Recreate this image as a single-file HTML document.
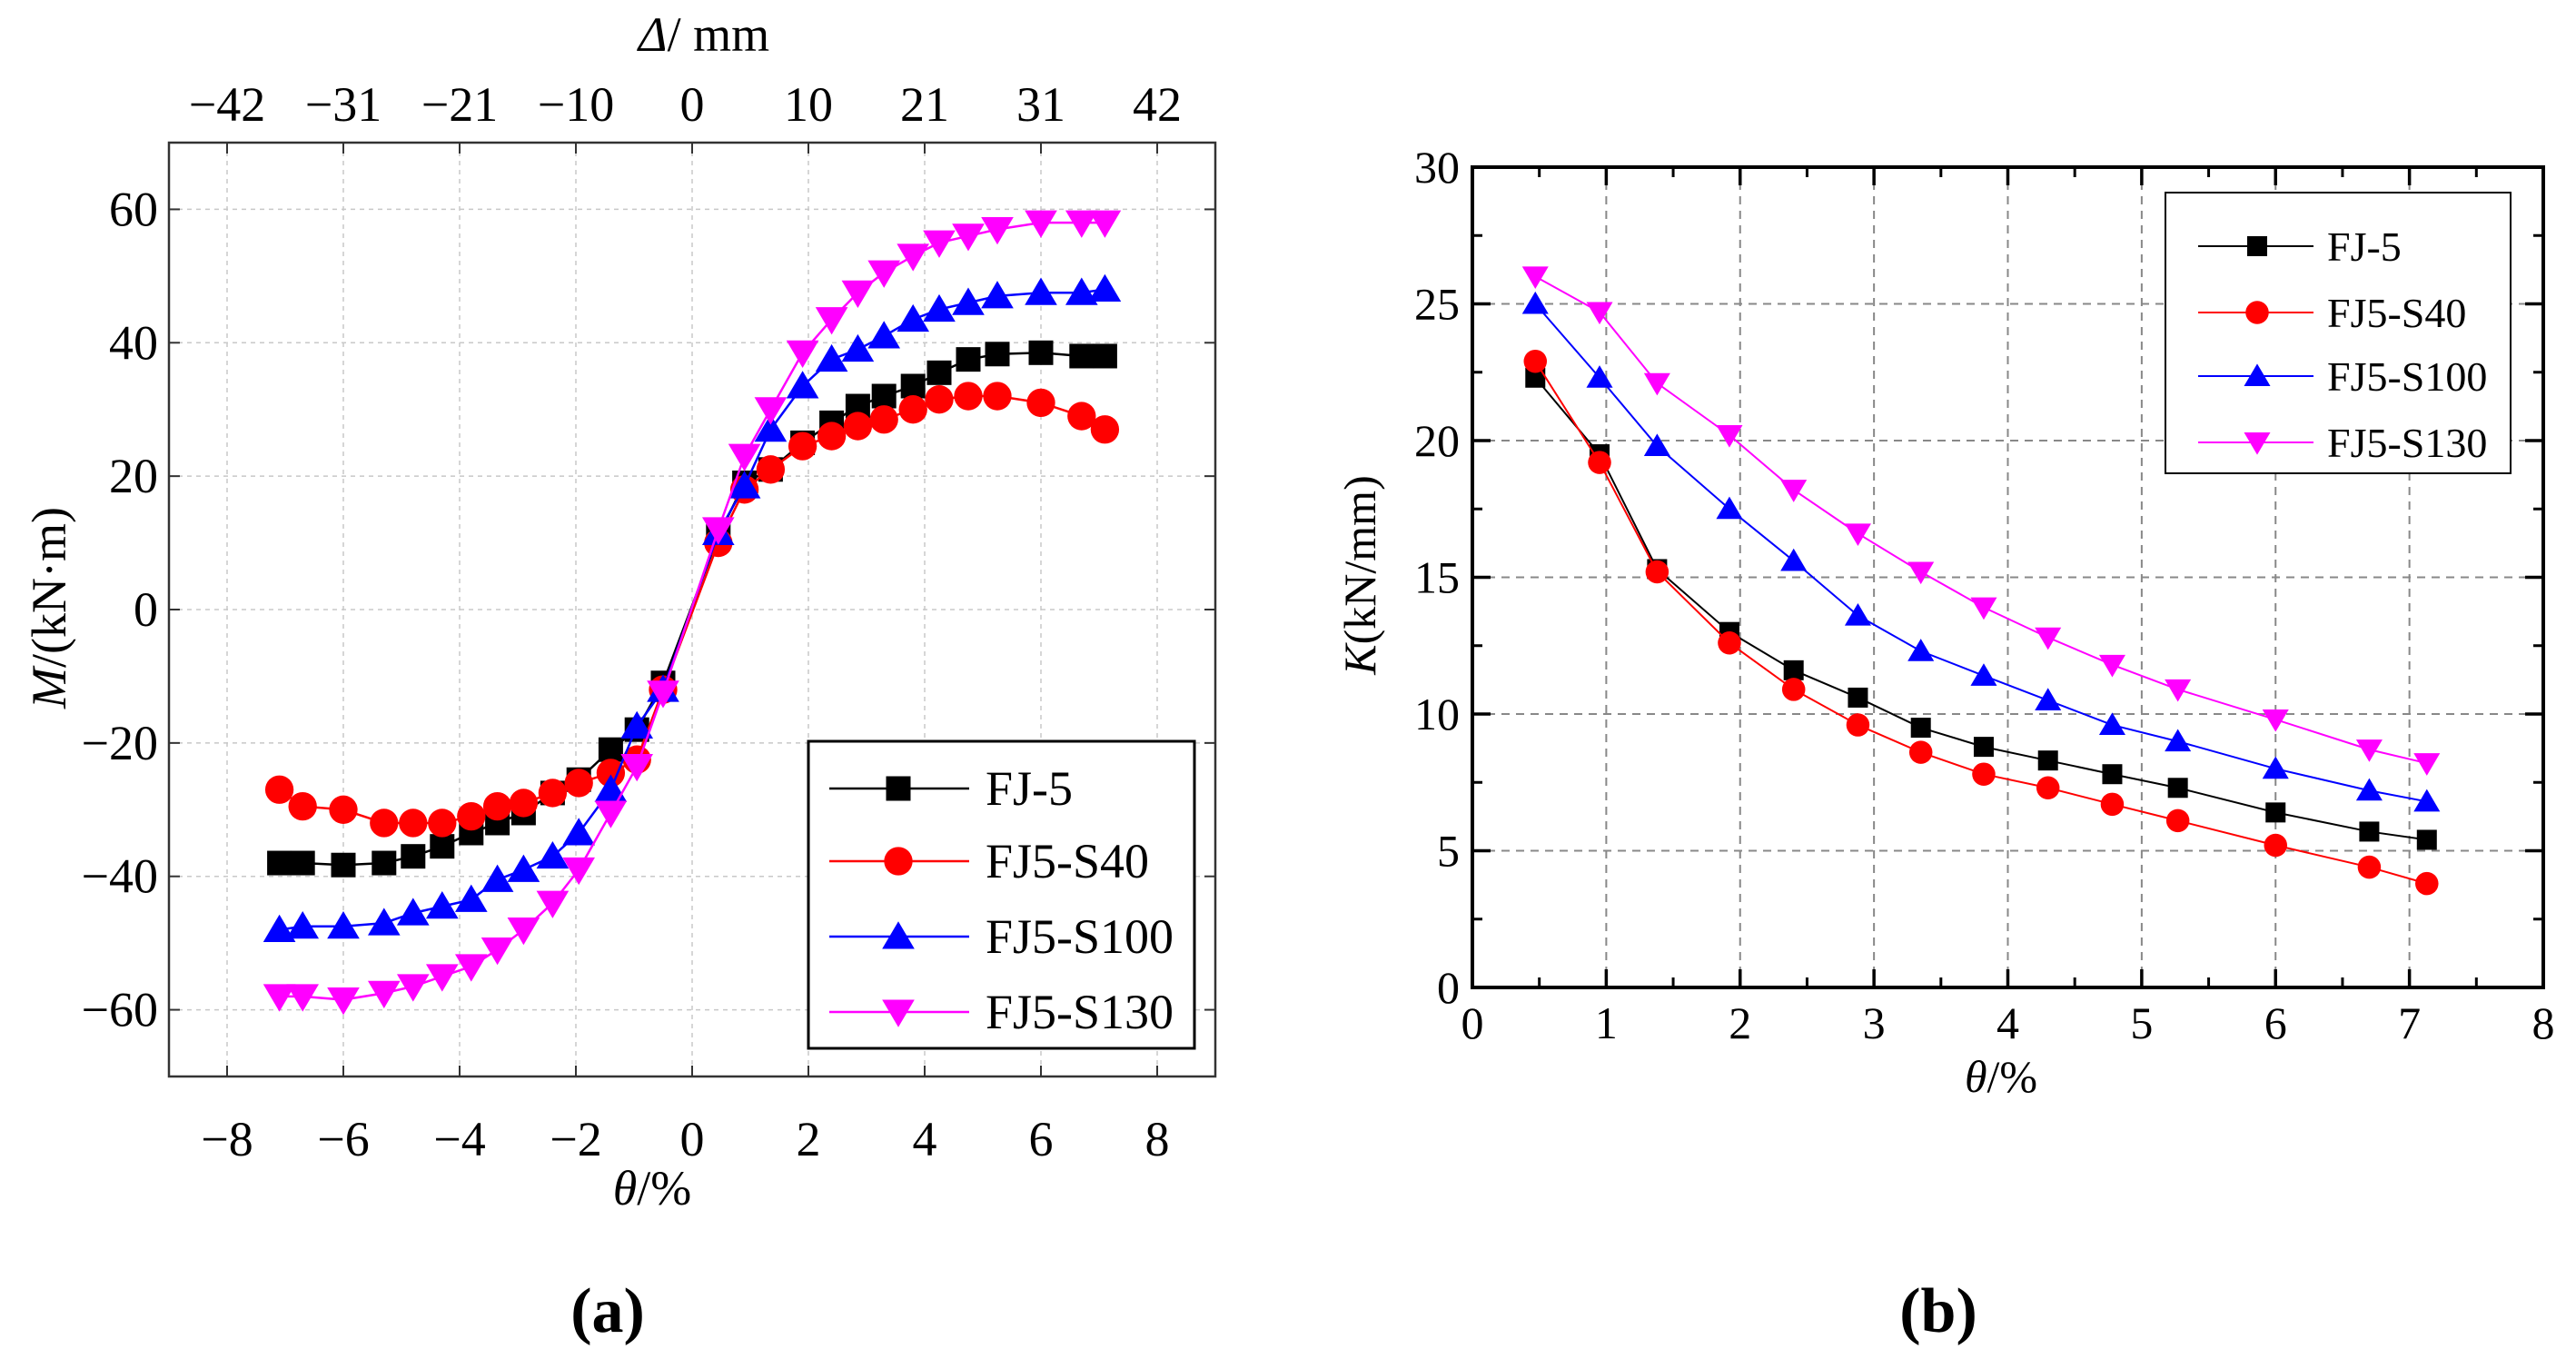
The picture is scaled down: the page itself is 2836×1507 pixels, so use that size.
<!DOCTYPE html>
<html><head><meta charset="utf-8"><style>
html,body{margin:0;padding:0;background:#fff;}
svg, svg text{font-family:"Liberation Serif","DejaVu Serif",serif;}
svg{display:block;}
</style></head><body>
<svg id="fig" width="2836" height="1507" viewBox="0 0 2836 1507" xmlns="http://www.w3.org/2000/svg" font-family="Liberation Serif, DejaVu Serif, serif"></svg>
<script>
// ---- Chart (a) data ----
const aThetaPos = [0.45,0.9,1.35,1.9,2.4,2.85,3.3,3.8,4.25,4.75,5.25,6.0,6.7,7.1];
const aThetaNeg = [-0.5,-0.95,-1.4,-1.95,-2.4,-2.9,-3.35,-3.8,-4.3,-4.8,-5.3,-6.0,-6.7,-7.1];
const aFJ5Pos  = [11,19,21,25,28,30.5,32,33.5,35.5,37.5,38.3,38.5,38,38];
const aFJ5Neg  = [-11,-18,-21,-25.5,-27.5,-30.5,-32,-33.5,-35.5,-37,-38,-38.3,-38,-38];
const aS40Pos  = [10,18,21,24.5,26,27.5,28.5,30,31.5,32,32,31,29,27];
const aS40Neg  = [-12,-22.5,-24.5,-26,-27.5,-29,-29.5,-31,-32,-32,-32,-30,-29.5,-27];
const aS100Pos = [11.5,18.5,27,33.5,37.5,39,41,43.5,45,46,47,47.5,47.5,48];
const aS100Neg = [-12,-17.5,-27,-33.5,-37,-39,-40.5,-43.5,-44.5,-45.5,-47,-47.5,-47.5,-48];
const aS130Pos = [12,23,30,38.5,43.5,47.5,50.5,53,55,56,57,58,58,58];
const aS130Neg = [-12.5,-23.5,-30.5,-39,-44,-48,-51,-53.5,-55,-56.5,-57.5,-58.5,-58,-58];
const aXTicks = [-8,-6,-4,-2,0,2,4,6,8];
const aTopTickLabels = ["\u221242","\u221231","\u221221","\u221210","0","10","21","31","42"];
const aYTicks = [-60,-40,-20,0,20,40,60];
// ---- Chart (b) data ----
const bTheta = [0.47,0.95,1.38,1.92,2.4,2.88,3.35,3.82,4.3,4.78,5.27,6.0,6.7,7.13];
const bFJ5  = [22.3,19.5,15.3,13.0,11.6,10.6,9.5,8.8,8.3,7.8,7.3,6.4,5.7,5.4];
const bS40  = [22.9,19.2,15.2,12.6,10.9,9.6,8.6,7.8,7.3,6.7,6.1,5.2,4.4,3.8];
const bS100 = [25.0,22.3,19.8,17.5,15.6,13.6,12.3,11.4,10.5,9.6,9.0,8.0,7.2,6.8];
const bS130 = [26.0,24.7,22.1,20.2,18.2,16.6,15.2,13.9,12.8,11.8,10.9,9.8,8.7,8.2];
const bXTicks = [0,1,2,3,4,5,6,7,8];
const bYTicks = [0,5,10,15,20,25,30];
const seriesNames = ["FJ-5","FJ5-S40","FJ5-S100","FJ5-S130"];
const seriesColors = ["#000000","#ff0000","#0000ff","#ff00ff"];
const seriesMarkers = ["square","circle","up","down"];

const NS="http://www.w3.org/2000/svg";
const svg=document.getElementById('fig');
const FF='Liberation Serif, DejaVu Serif, serif';
function mk(tag,attrs,parent,text){const e=document.createElementNS(NS,tag);for(const k in attrs)e.setAttribute(k,attrs[k]);if(tag==='text')e.setAttribute('font-family',FF);if(text!==undefined)e.textContent=text;(parent||svg).appendChild(e);return e;}
function fmt(v){return v<0?"\u2212"+Math.abs(v):String(v);}
function marker(g,type,x,y,s,color){
  let m;
  if(type==="square") m=mk('rect',{x:x-s/2,y:y-s/2,width:s,height:s,fill:color},g);
  else if(type==="circle") m=mk('circle',{cx:x,cy:y,r:s*0.58,fill:color},g);
  else if(type==="up") m=mk('polygon',{points:`${x},${y-s*0.62} ${x-s*0.66},${y+s*0.5} ${x+s*0.66},${y+s*0.5}`,fill:color},g);
  else m=mk('polygon',{points:`${x},${y+s*0.62} ${x-s*0.66},${y-s*0.5} ${x+s*0.66},${y-s*0.5}`,fill:color},g);
  
  
}

// ===== Chart (a) =====
const aL=186,aR=1338,aT=157,aB=1185;
const ax=v=>aL+(v+9)/18*(aR-aL);
const ay=v=>aB-(v+70)/140*(aB-aT);
const ga=mk('g',{});


aXTicks.forEach((t,i)=>{
  const l=mk('line',{x1:ax(t),x2:ax(t),y1:aT,y2:aB,stroke:'#c8c8c8','stroke-width':1.5,'stroke-dasharray':'5,5'},ga);
  
  
  mk('line',{x1:ax(t),x2:ax(t),y1:aB,y2:aB-12,stroke:'#333','stroke-width':2},ga);
  mk('line',{x1:ax(t),x2:ax(t),y1:aT,y2:aT+12,stroke:'#333','stroke-width':2},ga);
  const tl=mk('text',{x:ax(t),y:aB+87,'font-size':54,'text-anchor':'middle'},ga,fmt(t));
  
  
  const tt=mk('text',{x:ax(t),y:aT-24,'font-size':54,'text-anchor':'middle'},ga,aTopTickLabels[i]);
  
  
});
aYTicks.forEach(t=>{
  const l=mk('line',{x1:aL,x2:aR,y1:ay(t),y2:ay(t),stroke:'#c8c8c8','stroke-width':1.5,'stroke-dasharray':'5,5'},ga);
  
  
  mk('line',{x1:aL,x2:aL+12,y1:ay(t),y2:ay(t),stroke:'#333','stroke-width':2},ga);
  mk('line',{x1:aR,x2:aR-12,y1:ay(t),y2:ay(t),stroke:'#333','stroke-width':2},ga);
  const tl=mk('text',{x:aL-12,y:ay(t)+18,'font-size':54,'text-anchor':'end'},ga,fmt(t));
  
  
});
const aSeries=[[aFJ5Pos,aFJ5Neg],[aS40Pos,aS40Neg],[aS100Pos,aS100Neg],[aS130Pos,aS130Neg]];
aSeries.forEach((s,k)=>{
  const g=mk('g',{},ga);
  
  
  const xs=aThetaNeg.slice().reverse().concat(aThetaPos);
  const ys=s[1].slice().reverse().concat(s[0]);
  mk('polyline',{points:xs.map((x,i)=>ax(x)+','+ay(ys[i])).join(' '),fill:'none',stroke:seriesColors[k],'stroke-width':2.5},g);
  xs.forEach((x,i)=>marker(g,seriesMarkers[k],ax(x),ay(ys[i]),27,seriesColors[k]));
});
mk('rect',{x:aL,y:aT,width:aR-aL,height:aB-aT,fill:'none',stroke:'#333','stroke-width':2.5},ga);
// legend a
const la=mk('g',{},ga);


mk('rect',{x:890,y:816,width:425,height:338,fill:'#fff',stroke:'#000','stroke-width':3},la);
[868,948,1031,1114].forEach((y,k)=>{
  const e=mk('g',{},la);
  
  
  mk('line',{x1:913,x2:1067,y1:y,y2:y,stroke:seriesColors[k],'stroke-width':2.5},e);
  marker(e,seriesMarkers[k],989,y,27,seriesColors[k]);
  mk('text',{x:1085,y:y+18,'font-size':54},e,seriesNames[k]);
});
let t;
t=mk('text',{x:718,y:1326,'font-size':54,'text-anchor':'middle'},ga);
t.innerHTML='<tspan font-style="italic">θ</tspan>/%';


t=mk('text',{x:775,y:56,'font-size':54,'text-anchor':'middle'},ga);
t.innerHTML='<tspan font-style="italic">Δ</tspan>/ mm';


t=mk('text',{x:0,y:0,'font-size':54,'text-anchor':'middle',transform:'translate(72,669) rotate(-90)'},ga);
t.innerHTML='<tspan font-style="italic">M</tspan>/(kN·m)';


t=mk('text',{x:669,y:1466,'font-size':70,'font-weight':'bold','text-anchor':'middle'},ga,'(a)');



// ===== Chart (b) =====
const bL=1621,bR=2800,bT=184,bB=1087;
const bx=v=>bL+v/8*(bR-bL);
const by=v=>bB-v/30*(bB-bT);
const gb=mk('g',{});


bXTicks.forEach(v=>{
  if(v>0&&v<8){const l=mk('line',{x1:bx(v),x2:bx(v),y1:bT,y2:bB,stroke:'#888','stroke-width':2,'stroke-dasharray':'9,7'},gb);
  
  }
  mk('line',{x1:bx(v),x2:bx(v),y1:bB,y2:bB-20,stroke:'#000','stroke-width':3.5},gb);
  mk('line',{x1:bx(v),x2:bx(v),y1:bT,y2:bT+20,stroke:'#000','stroke-width':3.5},gb);
  if(v<8){mk('line',{x1:bx(v+0.5),x2:bx(v+0.5),y1:bB,y2:bB-11,stroke:'#000','stroke-width':3},gb);
  mk('line',{x1:bx(v+0.5),x2:bx(v+0.5),y1:bT,y2:bT+11,stroke:'#000','stroke-width':3},gb);}
  const tl=mk('text',{x:bx(v),y:bB+56,'font-size':50,'text-anchor':'middle'},gb,String(v));
  
  
});
bYTicks.forEach(v=>{
  if(v>0&&v<30){const l=mk('line',{x1:bL,x2:bR,y1:by(v),y2:by(v),stroke:'#888','stroke-width':2,'stroke-dasharray':'9,7'},gb);
  
  }
  mk('line',{x1:bL,x2:bL+20,y1:by(v),y2:by(v),stroke:'#000','stroke-width':3.5},gb);
  mk('line',{x1:bR,x2:bR-20,y1:by(v),y2:by(v),stroke:'#000','stroke-width':3.5},gb);
  if(v<30){mk('line',{x1:bL,x2:bL+11,y1:by(v+2.5),y2:by(v+2.5),stroke:'#000','stroke-width':3},gb);
  mk('line',{x1:bR,x2:bR-11,y1:by(v+2.5),y2:by(v+2.5),stroke:'#000','stroke-width':3},gb);}
  const tl=mk('text',{x:bL-14,y:by(v)+17,'font-size':50,'text-anchor':'end'},gb,String(v));
  
  
});
[bFJ5,bS40,bS100,bS130].forEach((s,k)=>{
  const g=mk('g',{},gb);
  
  
  mk('polyline',{points:bTheta.map((x,i)=>bx(x)+','+by(s[i])).join(' '),fill:'none',stroke:seriesColors[k],'stroke-width':2},g);
  bTheta.forEach((x,i)=>marker(g,seriesMarkers[k],bx(x),by(s[i]),22,seriesColors[k]));
});
mk('rect',{x:bL,y:bT,width:bR-bL,height:bB-bT,fill:'none',stroke:'#000','stroke-width':4},gb);
const lb=mk('g',{},gb);


mk('rect',{x:2384,y:212,width:380,height:309,fill:'#fff',stroke:'#000','stroke-width':2},lb);
[271,344,414,487].forEach((y,k)=>{
  const e=mk('g',{},lb);
  
  
  mk('line',{x1:2420,x2:2547,y1:y,y2:y,stroke:seriesColors[k],'stroke-width':2},e);
  marker(e,seriesMarkers[k],2485,y,22,seriesColors[k]);
  mk('text',{x:2562,y:y+16,'font-size':46},e,seriesNames[k]);
});
t=mk('text',{x:2203,y:1202,'font-size':50,'text-anchor':'middle'},gb);
t.innerHTML='<tspan font-style="italic">θ</tspan>/%';


t=mk('text',{x:0,y:0,'font-size':50,'text-anchor':'middle',transform:'translate(1514,633) rotate(-90)'},gb);
t.innerHTML='<tspan font-style="italic">K</tspan>(kN/mm)';


t=mk('text',{x:2134,y:1466,'font-size':70,'font-weight':'bold','text-anchor':'middle'},gb,'(b)');


</script>
</body></html>
